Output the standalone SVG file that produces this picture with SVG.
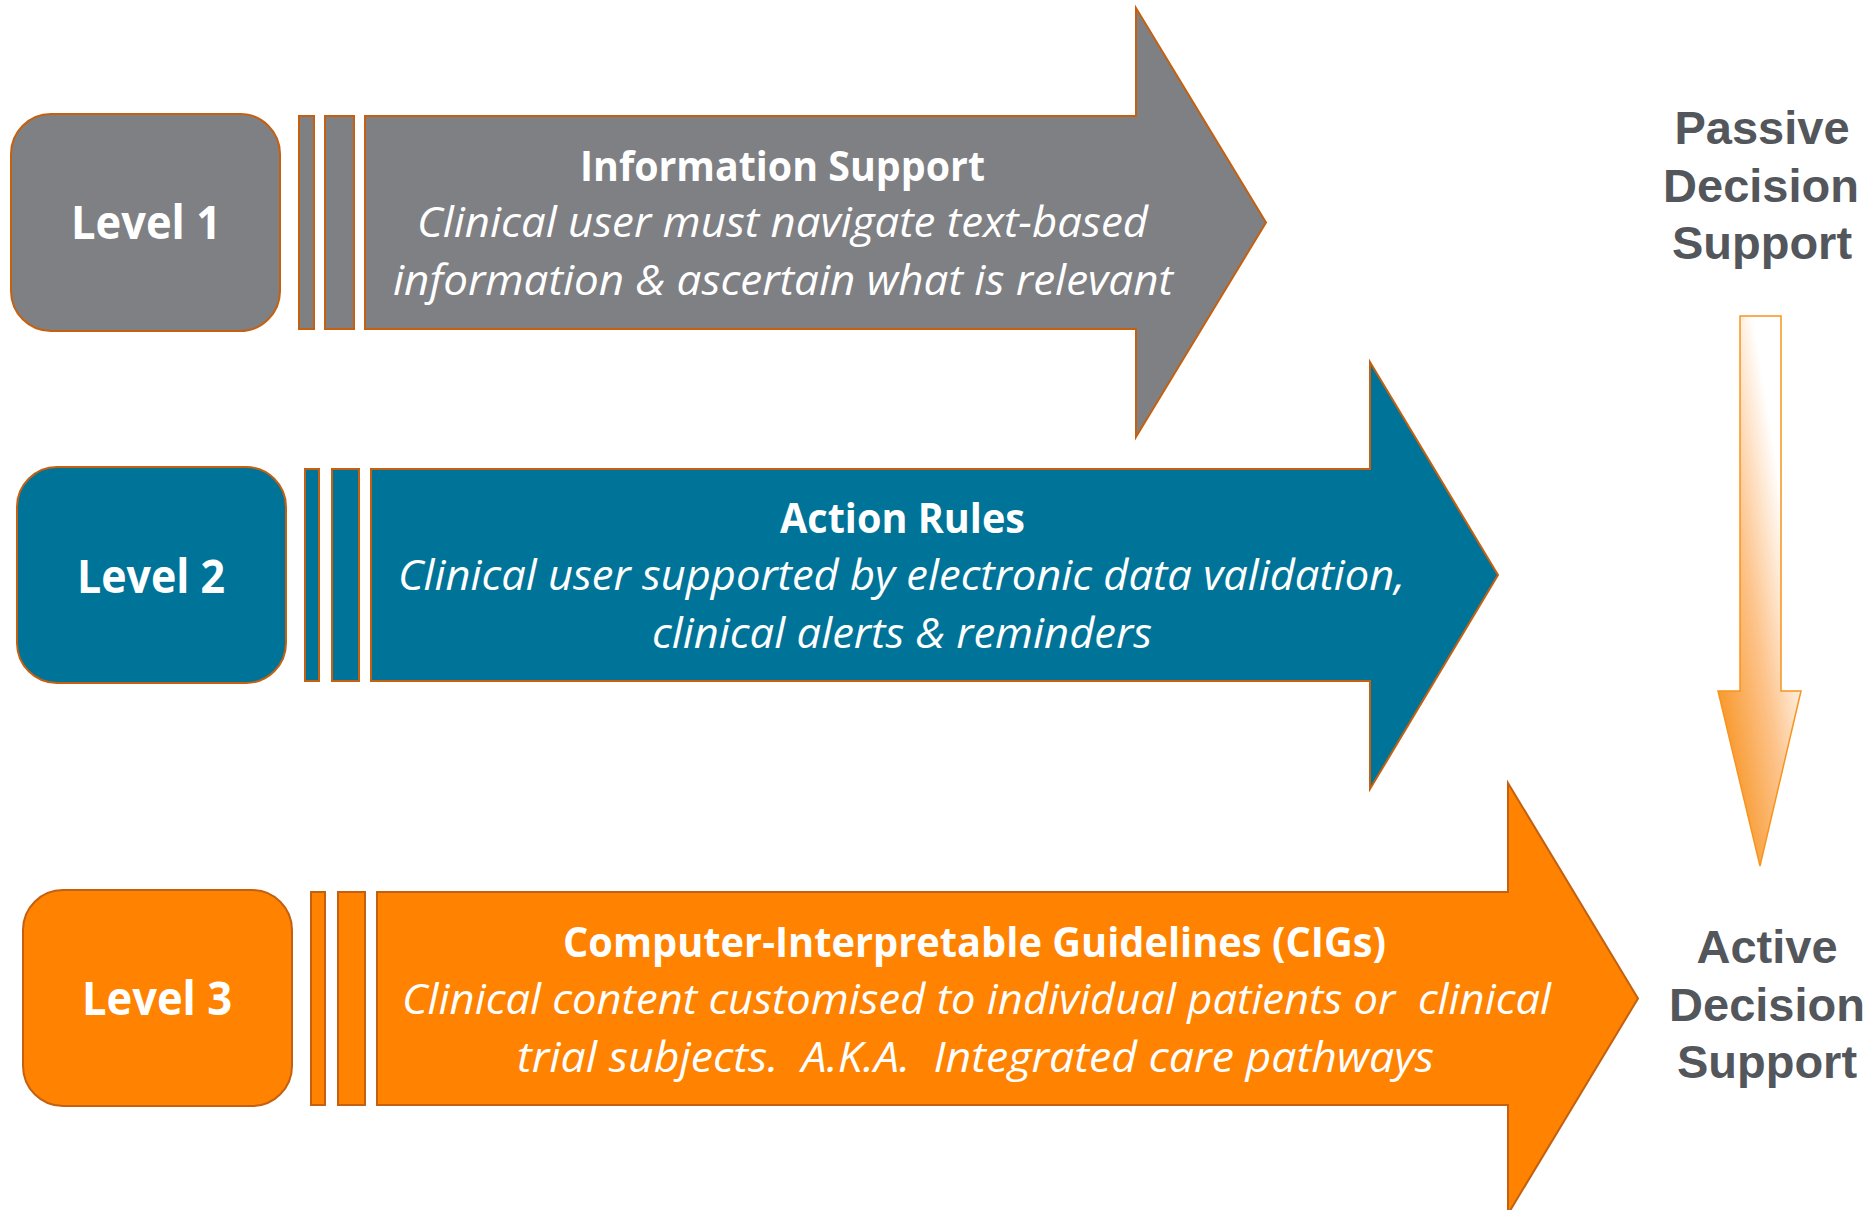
<svg xmlns="http://www.w3.org/2000/svg" width="1866" height="1210" viewBox="0 0 1866 1210">
<defs>
<style>
.sh{stroke:#C4600F;stroke-width:2;stroke-linejoin:miter}
.gray{fill:#7F8084}
.teal{fill:#007498}
.orange{fill:#FF8200}
.lvl{font-family:"Open Sans","Noto Sans",sans-serif;font-weight:bold;font-size:47px;fill:#FFFFFF}
.ttl{font-family:"Open Sans","Noto Sans",sans-serif;font-weight:bold;font-size:42px;fill:#FFFFFF}
.body{font-family:"Open Sans","Noto Sans",sans-serif;font-style:italic;font-size:42px;fill:#FFFFFF}
.side{font-family:"Liberation Sans",Arial,sans-serif;font-weight:bold;font-size:47px;fill:#53565B;text-anchor:middle}
</style>
<linearGradient id="grad" x1="0.85" y1="0.1" x2="0.1" y2="0.9">
<stop offset="0" stop-color="#FFFFFF"/>
<stop offset="0.2" stop-color="#FFFFFF"/>
<stop offset="0.55" stop-color="#FDC48C"/>
<stop offset="1" stop-color="#F7901A"/>
</linearGradient>
</defs>
<rect width="1866" height="1210" fill="#FFFFFF"/>

<g id="level1">
<rect class="sh gray" x="11" y="114" width="269" height="217" rx="40" ry="40"/>
<rect class="sh gray" x="299" y="116" width="15" height="213"/>
<rect class="sh gray" x="325" y="116" width="29" height="213"/>
<text class="lvl" x="71" y="239" textLength="150" lengthAdjust="spacingAndGlyphs">Level 1</text>
</g>
<g id="arrow1">
<path class="sh gray" d="M365,116 L1136,116 L1136,8 L1266,222.5 L1136,437 L1136,329 L365,329 Z"/>
<text class="ttl" x="580" y="181" textLength="405" lengthAdjust="spacingAndGlyphs">Information Support</text>
<text class="body" x="417" y="237" textLength="731" lengthAdjust="spacingAndGlyphs">Clinical user must navigate text-based</text>
<text class="body" x="393" y="295" textLength="780" lengthAdjust="spacingAndGlyphs">information &amp; ascertain what is relevant</text>
</g>

<g id="level2">
<rect class="sh teal" x="17" y="467" width="269" height="216" rx="40" ry="40"/>
<rect class="sh teal" x="305" y="469" width="14" height="212"/>
<rect class="sh teal" x="332" y="469" width="27" height="212"/>
<text class="lvl" x="77" y="593" textLength="148" lengthAdjust="spacingAndGlyphs">Level 2</text>
</g>
<g id="arrow2">
<path class="sh teal" d="M371,469 L1370,469 L1370,362 L1498,575 L1370,789 L1370,681 L371,681 Z"/>
<text class="ttl" x="780" y="533" textLength="245" lengthAdjust="spacingAndGlyphs">Action Rules</text>
<text class="body" x="398" y="590" textLength="1007" lengthAdjust="spacingAndGlyphs">Clinical user supported by electronic data validation,</text>
<text class="body" x="652" y="648" textLength="500" lengthAdjust="spacingAndGlyphs">clinical alerts &amp; reminders</text>
</g>

<g id="level3">
<rect class="sh orange" x="23" y="890" width="269" height="216" rx="40" ry="40"/>
<rect class="sh orange" x="311" y="892" width="14" height="213"/>
<rect class="sh orange" x="338" y="892" width="27" height="213"/>
<text class="lvl" x="82" y="1015" textLength="150" lengthAdjust="spacingAndGlyphs">Level 3</text>
</g>
<g id="arrow3">
<path class="sh orange" d="M377,892 L1508,892 L1508,783 L1638,998.5 L1508,1214 L1508,1105 L377,1105 Z"/>
<text class="ttl" x="563" y="957" textLength="823" lengthAdjust="spacingAndGlyphs">Computer-Interpretable Guidelines (CIGs)</text>
<text class="body" x="402" y="1014" textLength="1149" lengthAdjust="spacingAndGlyphs" xml:space="preserve">Clinical content customised to individual patients or  clinical</text>
<text class="body" x="517" y="1072" textLength="917" lengthAdjust="spacingAndGlyphs" xml:space="preserve">trial subjects.  A.K.A.  Integrated care pathways</text>
</g>

<g id="passive">
<text class="side" x="1762" y="144">Passive</text>
<text class="side" x="1761" y="202">Decision</text>
<text class="side" x="1762" y="259">Support</text>
</g>

<g id="connectors">
<path d="M1740,316 L1781,316 L1781,691 L1801,691 L1760,866 L1718,691 L1740,691 Z" fill="url(#grad)" stroke="#F7941D" stroke-width="1.5"/>
</g>

<g id="active">
<text class="side" x="1767" y="963">Active</text>
<text class="side" x="1767" y="1021">Decision</text>
<text class="side" x="1767" y="1078">Support</text>
</g>
</svg>
